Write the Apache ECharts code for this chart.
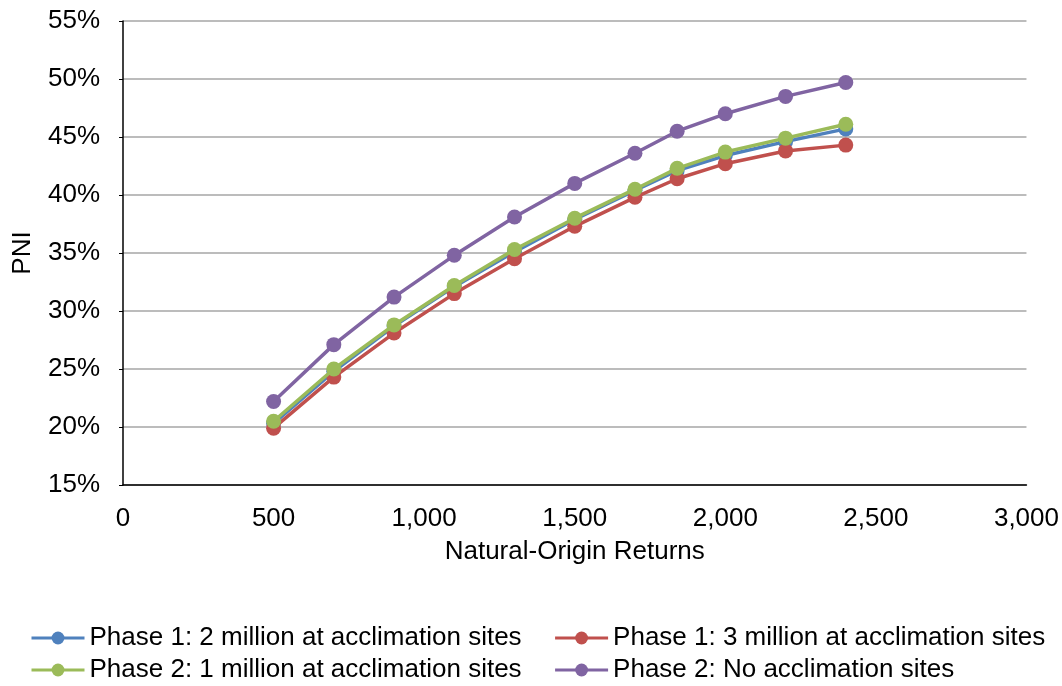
<!DOCTYPE html>
<html>
<head>
<meta charset="utf-8">
<script src="https://cdn.jsdelivr.net/npm/echarts@6/dist/echarts.min.js"></script>
<style>
html,body{margin:0;padding:0;background:#fff;}
#chart{width:1062px;height:686px;}
</style>
</head>
<body>
<div id="chart"></div>
<script>
const returns = [500, 700, 900, 1100, 1300, 1500, 1700, 1840, 2000, 2200, 2400];
const seriesNames = [
  'Phase 1: 2 million at acclimation sites',
  'Phase 1: 3 million at acclimation sites',
  'Phase 2: 1 million at acclimation sites',
  'Phase 2: No acclimation sites'
];
const phase1_2M = [20.3, 24.8, 28.7, 32.1, 35.1, 37.9, 40.4, 42.1, 43.4, 44.6, 45.7];
const phase1_3M = [19.9, 24.3, 28.1, 31.5, 34.5, 37.3, 39.8, 41.4, 42.7, 43.8, 44.3];
const phase2_1M = [20.5, 25.0, 28.8, 32.2, 35.3, 38.0, 40.5, 42.3, 43.7, 44.9, 46.1];
const phase2_none = [22.2, 27.1, 31.2, 34.8, 38.1, 41.0, 43.6, 45.5, 47.0, 48.5, 49.7];
const colors = ['#4F81BD', '#C0504D', '#9BBB59', '#8064A2'];
const allValues = [phase1_2M, phase1_3M, phase2_1M, phase2_none];

const font = 'Liberation Sans, Arial, sans-serif';
const fs = 26;
const legendBase = {
  orient: 'horizontal',
  left: 25,
  itemWidth: 53,
  itemHeight: 16,
  itemGap: 32,
  lineStyle: {width: 3},
  textStyle: {fontFamily: font, fontSize: fs, color: '#000'}
};
const chart = echarts.init(document.getElementById('chart'));
chart.setOption({
  animation: false,
  color: colors,
  grid: {left: 123, right: 34, top: 21, bottom: 201},
  legend: [
    Object.assign({}, legendBase, {data: [seriesNames[0], seriesNames[1]], top: 620}),
    Object.assign({}, legendBase, {data: [seriesNames[2], seriesNames[3]], top: 652})
  ],
  xAxis: {
    type: 'value', min: 0, max: 3000, interval: 500,
    name: 'Natural-Origin Returns', nameLocation: 'middle', nameGap: 54,
    nameTextStyle: {fontFamily: font, fontSize: fs, color: '#000'},
    axisLine: {show: true, lineStyle: {color: '#000', width: 1.5}},
    axisTick: {show: false},
    splitLine: {show: false},
    axisLabel: {fontFamily: font, fontSize: fs, color: '#000', margin: 21,
      formatter: v => v.toLocaleString('en-US')}
  },
  yAxis: {
    type: 'value', min: 15, max: 55, interval: 5,
    name: 'PNI', nameLocation: 'middle', nameGap: 87, nameRotate: 90,
    nameTextStyle: {fontFamily: font, fontSize: fs, color: '#000'},
    axisLine: {show: true, lineStyle: {color: '#000', width: 1.5}},
    axisTick: {show: true, inside: false, length: 4, lineStyle: {color: '#000'}},
    splitLine: {show: true, lineStyle: {color: '#A6A6A6', width: 1.5}},
    axisLabel: {fontFamily: font, fontSize: fs, color: '#000', margin: 23,
      formatter: v => v + '%'}
  },
  series: seriesNames.map((name, i) => ({
    name: name,
    type: 'line',
    data: returns.map((x, j) => [x, allValues[i][j]]),
    symbol: 'circle',
    symbolSize: 15,
    showSymbol: true,
    lineStyle: {width: 3.5, color: colors[i]},
    itemStyle: {color: colors[i]},
    z: 2 + i
  }))
});
</script>
</body>
</html>
